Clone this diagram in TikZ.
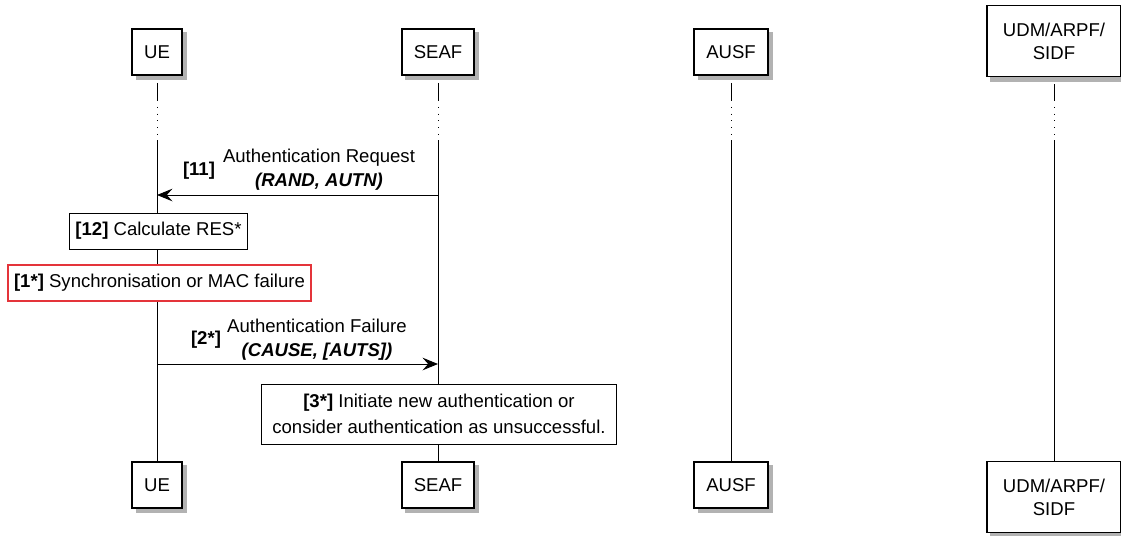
\documentclass[tikz,border=0pt]{standalone}
\usepackage{fontspec}
\setmainfont{Liberation Sans}
\usetikzlibrary{arrows.meta,backgrounds}
\definecolor{failred}{RGB}{228,52,58}
\tikzset{
  party/.style={draw, line width=1.1pt, fill=white, minimum height=1.15cm, inner xsep=0.3cm, align=center,
    font=\fontsize{13.2}{16.5}\selectfont},
  shade box/.style={fill=black!30},
  note/.style={draw, line width=0.7pt, fill=white, align=center, inner sep=2pt, font=\fontsize{13.2}{18.5}\selectfont},
  lbl/.style={align=center, inner sep=0pt, font=\fontsize{13.2}{17}\selectfont},
  life/.style={line width=0.7pt},
  msg/.style={line width=0.7pt, -{Stealth[length=11pt,width=9pt,inset=4pt]}},
}
\begin{document}
\begin{tikzpicture}[x=0.025cm,y=-0.025cm]
\useasboundingbox (0,0) rectangle (1121,535);

\node[party] (ue) at (157,52) {UE};
\node[party] (seaf) at (438,52) {SEAF};
\node[party] (ausf) at (731,52) {AUSF};
\node[party, minimum width=3.35cm, minimum height=1.775cm] (udm) at (1054,41) {UDM/ARPF/\\SIDF};

\node[party] (ue2) at (157,485) {UE};
\node[party] (seaf2) at (438,485) {SEAF};
\node[party] (ausf2) at (731,485) {AUSF};
\node[party, minimum width=3.35cm, minimum height=1.775cm] (udm2) at (1054,497) {UDM/ARPF/\\SIDF};

\begin{scope}[on background layer]
\foreach \p in {ue,seaf,ausf,udm,ue2,seaf2,ausf2,udm2}
  \fill[shade box] ([shift={(3pt,-3pt)}]\p.south west) rectangle ([shift={(3pt,-3pt)}]\p.north east);
\end{scope}

\coordinate (d1) at (0,100);
\coordinate (d2) at (0,140);
\foreach \p in {ue,seaf,ausf,udm}{
  \draw[life] ([yshift=-5pt]\p.south) -- (\p |- d1);
  \draw[life, dash pattern=on 0.8pt off 4pt] (\p |- d1) -- (\p |- d2);
  \draw[life] (\p |- d2) -- (\p2.north);
}

% [11] request from SEAF
\coordinate (m11) at (0,195);
\draw[msg] (seaf |- m11) -- (ue |- m11);
\node[lbl] (l11) at (319,170) {Authentication Request\\\textbf{\textit{(RAND, AUTN)}}};
\node[lbl, font=\fontsize{13.2}{17}\selectfont\bfseries] (n11) at (199,171) {[11]};

\node[note, minimum width=4.425cm, minimum height=0.9cm] (res) at (158.5,231) {\textbf{[12]} Calculate RES*};
\node[note, draw=failred, line width=1pt, minimum width=7.575cm, minimum height=0.9cm] (fail) at (159.5,283) {\textbf{[1*]} Synchronisation or MAC failure};

% [2*] failure to SEAF
\coordinate (m2) at (0,364);
\draw[msg] (ue |- m2) -- (seaf |- m2);
\node[lbl] (l2) at (317,340) {Authentication Failure\\\textbf{\textit{(CAUSE, [AUTS])}}};
\node[lbl, font=\fontsize{13.2}{17}\selectfont\bfseries] (n2) at (206,340) {[2*]};

\node[note, minimum width=8.85cm, minimum height=1.5cm] (init) at (439,414) {\textbf{[3*]} Initiate new authentication or\\consider authentication as unsuccessful.};

\end{tikzpicture}
\end{document}
